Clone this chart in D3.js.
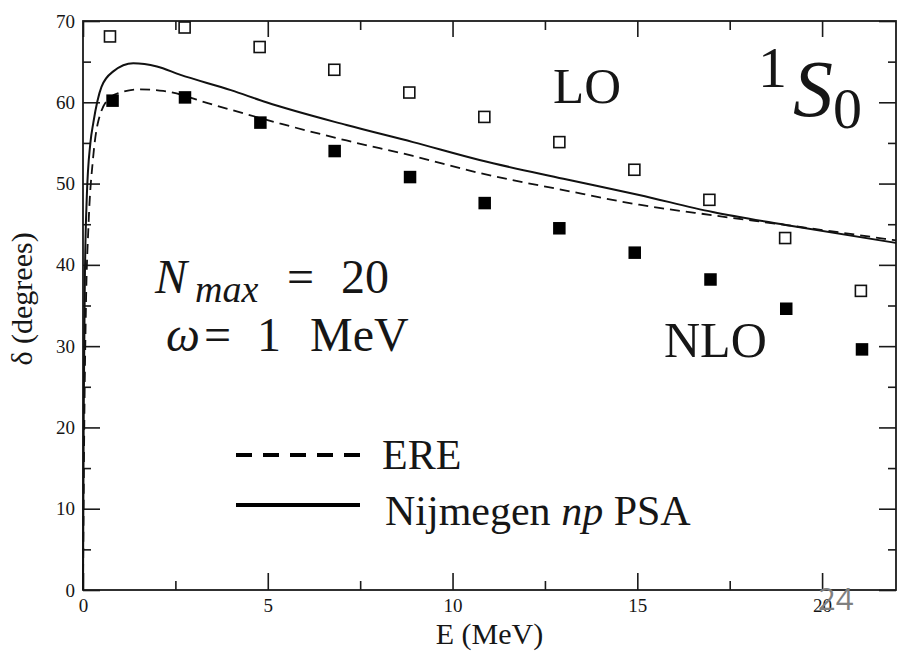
<!DOCTYPE html>
<html>
<head>
<meta charset="utf-8">
<script src="https://cdn.jsdelivr.net/npm/d3@7/dist/d3.min.js"></script>
<style>
  html, body { margin: 0; padding: 0; background: #fff; }
  svg { display: block; }
  text { font-family: "Liberation Serif", "DejaVu Serif", serif; fill: #161616; }
</style>
</head>
<body>
<svg id="chart" width="903" height="651"></svg>
<script>
// 1S0 neutron-proton phase shift versus lab energy

// LO and NLO oscillator-basis results
const energyLO  = [0.73, 2.75, 4.78, 6.80, 8.83, 10.86, 12.89, 14.92, 16.95, 19.00, 21.05];
const deltaLO   = [68.1, 69.2, 66.8, 64.0, 61.2, 58.2, 55.1, 51.7, 48.0, 43.3, 36.8];
const energyNLO = [0.80, 2.76, 4.80, 6.81, 8.85, 10.87, 12.89, 14.93, 16.98, 19.03, 21.08];
const deltaNLO  = [60.2, 60.6, 57.5, 54.0, 50.8, 47.6, 44.5, 41.5, 38.2, 34.6, 29.6];

// Effective range expansion curve
const energyERE = [0, 0.03, 0.08, 0.15, 0.27, 0.41, 0.73, 1.0, 1.54, 2.17, 3.52, 5.32, 7.13, 8.93, 10.73, 13.0, 15.05, 17.04, 19.02, 21.7, 22.0];
const deltaERE  = [0, 18, 35, 45, 53, 57.6, 60.6, 61.2, 61.6, 61.4, 59.7, 57.4, 55.3, 53.4, 51.3, 49.2, 47.4, 46.1, 44.9, 43.2, 43.0];

// Nijmegen np partial-wave analysis curve
const energyPSA = [0, 0.02, 0.05, 0.1, 0.2, 0.28, 0.5, 0.82, 1.36, 2.0, 2.62, 4.0, 4.96, 7.13, 8.93, 10.73, 13.0, 15.05, 17.04, 19.02, 22.0];
const deltaPSA  = [0, 22, 38, 48, 55, 57.5, 61.9, 63.8, 64.8, 64.4, 63.4, 61.5, 60.0, 57.2, 55.1, 52.9, 50.6, 48.6, 46.5, 44.9, 42.7];

// Axis ticks
const xMajorTicks = [0, 5, 10, 15, 20];
const xMinorTicks = [2.5, 7.5, 12.5, 17.5];
const yMajorTicks = [0, 10, 20, 30, 40, 50, 60, 70];
const yMinorTicks = [5, 15, 25, 35, 45, 55, 65];

// Legend
const legendLabels = ["ERE", "Nijmegen"];

const svg = d3.select("#chart");
const plotLeft = 83, plotRight = 896, plotTop = 21, plotBottom = 590;

const x = d3.scaleLinear().domain([0, 22]).range([plotLeft, plotRight]);
const y = d3.scaleLinear().domain([0, 70]).range([plotBottom, plotTop]);

const axisStroke = "#1a1a1a";

function styleAxis(g) {
  g.select(".domain").remove();
  g.selectAll(".tick line").attr("stroke", axisStroke).attr("stroke-width", 1.6);
  g.selectAll(".tick text")
    .attr("font-family", "Liberation Serif, serif")
    .attr("font-size", 19)
    .attr("fill", "#1a1a1a");
}

// bottom axis: labelled majors + minors
svg.append("g").attr("transform", `translate(0,${plotBottom})`)
  .call(d3.axisBottom(x).tickValues(xMajorTicks).tickSizeInner(-17).tickSizeOuter(0).tickPadding(9).tickFormat(d3.format("d")))
  .call(styleAxis);
svg.append("g").attr("transform", `translate(0,${plotBottom})`)
  .call(d3.axisBottom(x).tickValues(xMinorTicks).tickSizeInner(-9).tickSizeOuter(0).tickFormat(""))
  .call(styleAxis);
// top axis: ticks only
svg.append("g").attr("transform", `translate(0,${plotTop})`)
  .call(d3.axisTop(x).tickValues(xMajorTicks).tickSizeInner(-16).tickSizeOuter(0).tickFormat(""))
  .call(styleAxis);
svg.append("g").attr("transform", `translate(0,${plotTop})`)
  .call(d3.axisTop(x).tickValues(xMinorTicks).tickSizeInner(-9).tickSizeOuter(0).tickFormat(""))
  .call(styleAxis);
// left axis: labelled majors + minors
svg.append("g").attr("transform", `translate(${plotLeft},0)`)
  .call(d3.axisLeft(y).tickValues(yMajorTicks).tickSizeInner(-17).tickSizeOuter(0).tickPadding(8).tickFormat(d3.format("d")))
  .call(styleAxis);
svg.append("g").attr("transform", `translate(${plotLeft},0)`)
  .call(d3.axisLeft(y).tickValues(yMinorTicks).tickSizeInner(-8).tickSizeOuter(0).tickFormat(""))
  .call(styleAxis);
// right axis: ticks only
svg.append("g").attr("transform", `translate(${plotRight},0)`)
  .call(d3.axisRight(y).tickValues(yMajorTicks).tickSizeInner(-17).tickSizeOuter(0).tickFormat(""))
  .call(styleAxis);
svg.append("g").attr("transform", `translate(${plotRight},0)`)
  .call(d3.axisRight(y).tickValues(yMinorTicks).tickSizeInner(-8).tickSizeOuter(0).tickFormat(""))
  .call(styleAxis);

// frame
svg.append("rect")
  .attr("x", plotLeft).attr("y", plotTop)
  .attr("width", plotRight - plotLeft).attr("height", plotBottom - plotTop)
  .attr("fill", "none").attr("stroke", axisStroke).attr("stroke-width", 1.8);

// axis titles
svg.append("text")
  .attr("x", (plotLeft + plotRight) / 2).attr("y", 644)
  .attr("text-anchor", "middle").attr("font-size", 30)
  .text("E (MeV)");
svg.append("text")
  .attr("transform", "translate(32,299) rotate(-90)")
  .attr("text-anchor", "middle").attr("font-size", 30)
  .text("δ (degrees)");

// curves
const plot = svg.append("g");
const line = d3.line().x(d => x(d[0])).y(d => y(d[1])).curve(d3.curveMonotoneX);

plot.append("path")
  .datum(d3.zip(energyERE, deltaERE))
  .attr("d", line)
  .attr("fill", "none").attr("stroke", "#111").attr("stroke-width", 1.8)
  .attr("stroke-dasharray", "10,6");

plot.append("path")
  .datum(d3.zip(energyPSA, deltaPSA))
  .attr("d", line)
  .attr("fill", "none").attr("stroke", "#111").attr("stroke-width", 2);

// LO: open squares
const sLO = 11;
plot.selectAll("rect.lo")
  .data(d3.zip(energyLO, deltaLO))
  .join("rect").attr("class", "lo")
  .attr("x", d => x(d[0]) - sLO / 2).attr("y", d => y(d[1]) - sLO / 2)
  .attr("width", sLO).attr("height", sLO)
  .attr("fill", "#fff").attr("stroke", "#111").attr("stroke-width", 1.6);

// NLO: filled squares
const sNLO = 12.5;
plot.selectAll("rect.nlo")
  .data(d3.zip(energyNLO, deltaNLO))
  .join("rect").attr("class", "nlo")
  .attr("x", d => x(d[0]) - sNLO / 2).attr("y", d => y(d[1]) - sNLO / 2)
  .attr("width", sNLO).attr("height", sNLO)
  .attr("fill", "#000");

// series labels
svg.append("text").attr("x", 553).attr("y", 103).attr("font-size", 51).text("LO");
svg.append("text").attr("x", 664).attr("y", 357).attr("font-size", 50).text("NLO");

// channel label 1S0
const ch = svg.append("text").attr("x", 758).attr("y", 116);
ch.append("tspan").attr("font-size", 58).attr("dy", -29).text("1");
ch.append("tspan").attr("font-size", 80).attr("font-style", "italic").attr("dx", 6).attr("dy", 29).text("S");
ch.append("tspan").attr("font-size", 58).attr("dy", 12).text("0");

// model-space parameters, laid out with TeX-like spacing
const t1 = svg.append("text").attr("y", 293).attr("font-size", 48);
t1.append("tspan").attr("x", 155).attr("font-style", "italic").text("N");
t1.append("tspan").attr("x", 195).attr("font-style", "italic").attr("font-size", 38).attr("dy", 9).text("max");
t1.append("tspan").attr("x", 287).attr("dy", -9).text("=");
t1.append("tspan").attr("x", 341).text("20");

const t2 = svg.append("text").attr("y", 351).attr("font-size", 48);
t2.append("tspan").attr("x", 166).attr("font-style", "italic").text("ω");
t2.append("tspan").attr("x", 204).text("=");
t2.append("tspan").attr("x", 257).text("1");
t2.append("tspan").attr("x", 310).text("MeV");

// legend
const legend = svg.append("g");
legend.append("line")
  .attr("x1", 236).attr("x2", 360).attr("y1", 455).attr("y2", 455)
  .attr("stroke", "#000").attr("stroke-width", 4).attr("stroke-dasharray", "16,11");
legend.append("text").attr("x", 382).attr("y", 469).attr("font-size", 42).text(legendLabels[0]);

legend.append("line")
  .attr("x1", 236).attr("x2", 360).attr("y1", 505).attr("y2", 505)
  .attr("stroke", "#000").attr("stroke-width", 4);
const lt = legend.append("text").attr("x", 385).attr("y", 525).attr("font-size", 42);
lt.append("tspan").text(legendLabels[1] + " ");
lt.append("tspan").attr("font-style", "italic").text("np");
lt.append("tspan").text(" PSA");

// slide page number
svg.append("text")
  .attr("x", 818).attr("y", 610)
  .style("font-family", "'Open Sans', sans-serif")
  .attr("font-size", 31).style("fill", "#7f7f7f")
  .text("24");
</script>
</body>
</html>
